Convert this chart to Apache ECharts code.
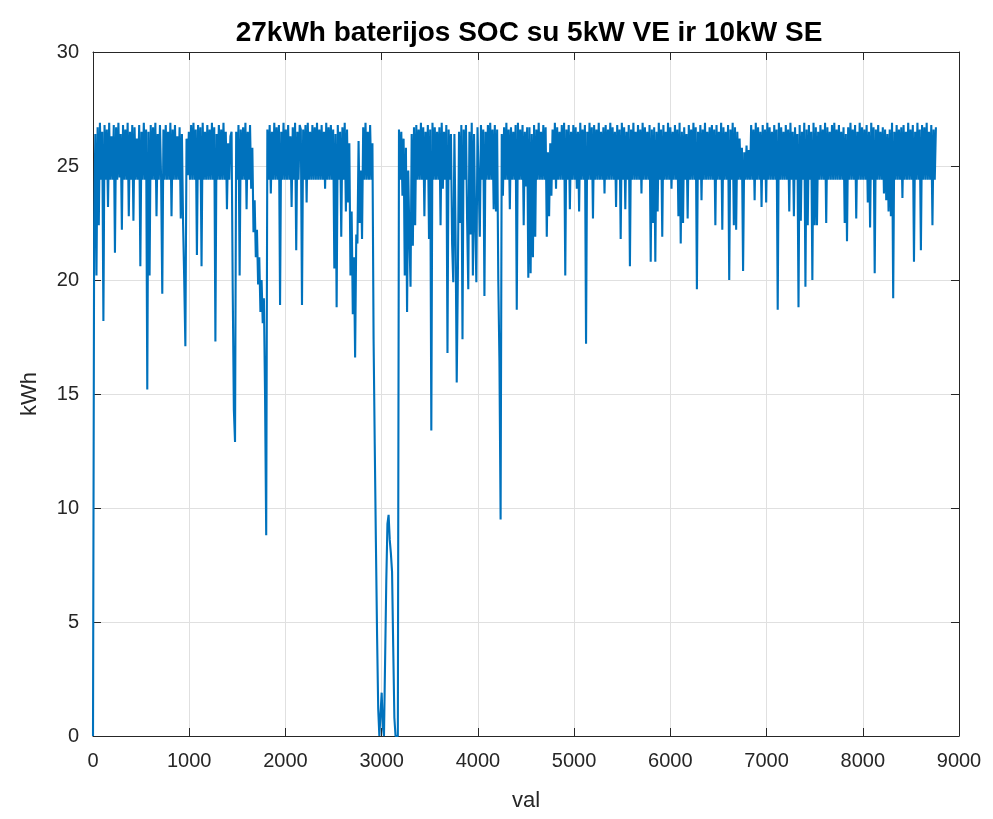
<!DOCTYPE html>
<html>
<head>
<meta charset="utf-8">
<script src="https://cdn.jsdelivr.net/npm/echarts@6/dist/echarts.min.js"></script>
<style>html,body{margin:0;padding:0;background:#fff}#chart{width:993px;height:819px}</style>
</head>
<body>
<div id="chart"></div>
<script>
const chartTitle = '27kWh baterijos SOC su 5kW VE ir 10kW SE';
const xAxisName = 'val';
const yAxisName = 'kWh';
const xTickRange = [0, 9000, 1000];
const yTickRange = [0, 30, 5];
const stepHours = 12; // one reading every 12 hours
const soc = [
0,22.3,26.4,20.2,26.7,22.4,26.9,24.4,26.5,18.2,26.8,24.4,26.6,23.2,26.9,24.4,26.3,24.4,26.8,21.2,
26.7,24.4,26.9,24.5,26.4,22.2,26.8,24.4,26.6,24.4,26.9,22.8,26.5,24.4,26.8,22.6,26.7,24.4,26.2,24.4,
26.8,20.6,26.5,24.4,26.9,24.4,26.6,15.2,26.5,20.2,26.8,24.4,26.7,24.4,26.9,22.8,26.4,24.4,26.8,24.4,
19.4,26.6,24.4,26.8,24.4,26.5,24.4,26.9,22.8,26.6,24.4,26.8,24.4,26.3,24.4,26.7,22.7,26.4,22.5,20.0,
17.1,26.2,24.6,26.5,24.4,26.8,24.4,26.9,24.4,26.6,21.1,26.8,24.4,26.7,20.6,26.9,24.4,26.5,24.4,26.8,
24.4,26.6,24.4,26.9,24.4,26.7,17.3,26.4,24.4,26.8,24.4,26.6,24.4,26.9,24.4,26.5,23.1,26.0,24.4,26.3,
26.5,19.6,14.3,12.9,26.5,24.4,26.8,20.2,26.6,24.4,26.7,24.4,26.9,23.1,26.5,24.4,26.8,24.0,25.8,22.1,
23.5,21.0,22.2,19.8,21.0,18.6,20.0,18.1,19.2,15.0,8.8,26.6,24.4,26.8,23.8,26.5,24.4,26.9,24.4,26.7,
24.4,26.8,18.9,26.5,24.4,26.9,24.4,26.6,24.4,26.8,24.4,26.3,23.2,26.7,24.4,26.9,21.3,26.5,24.4,26.8,
26.6,18.9,26.6,24.4,26.8,23.4,26.9,24.4,26.5,24.4,26.8,24.4,26.7,24.4,26.9,24.4,26.6,24.4,26.8,24.4,
26.5,24.0,26.9,24.4,26.7,24.4,26.8,24.4,26.6,20.5,26.4,18.8,26.8,24.4,26.5,21.9,26.7,24.4,26.9,23.0,
26.6,23.4,26.0,20.2,23.0,18.5,21.0,16.6,22.0,21.6,26.1,22.5,24.8,21.8,26.7,24.4,26.9,24.4,26.5,24.4,
26.8,24.4,26.0,17.4,12.8,8.5,4.5,1.2,0,0,1.9,0.4,0,3.4,6.8,9.3,9.7,8.6,8.0,7.2,
3.9,0.8,0,0,0,26.6,24.4,26.5,23.7,26.2,20.2,25.8,18.6,24.8,22.0,19.7,26.4,21.5,26.7,22.4,
26.8,24.4,26.6,24.4,26.9,24.4,26.7,22.8,26.5,24.4,26.8,21.8,26.6,13.4,26.9,24.4,26.7,24.4,26.5,24.4,
26.7,22.4,26.9,24.0,26.5,24.4,26.8,16.8,26.6,24.4,26.4,21.6,19.9,26.4,22.0,15.5,20.2,26.5,22.5,26.8,
17.4,26.6,24.4,26.8,22.6,19.6,26.5,22.0,26.9,20.2,26.4,22.5,19.9,26.7,24.4,21.9,26.8,24.4,26.6,19.3,
26.5,24.4,26.8,24.4,26.9,24.4,26.6,23.1,26.8,23.0,26.6,20.0,16.4,9.5,26.4,23.7,26.7,24.4,26.9,24.4,
26.6,23.1,26.7,24.4,26.5,24.4,26.8,18.7,26.9,24.4,26.6,24.4,26.8,22.4,26.5,24.1,26.7,20.1,26.7,20.3,
26.4,21.0,26.8,21.9,26.6,24.4,26.9,24.4,26.5,24.4,26.8,24.4,26.7,21.9,25.6,22.8,26.0,23.7,26.6,24.4,
26.9,24.0,26.7,24.4,26.5,24.4,26.8,24.4,26.9,20.2,26.6,24.4,26.8,23.1,26.5,24.4,26.8,24.4,26.7,24.0,
26.5,23.0,26.9,24.4,26.6,24.4,26.8,17.2,26.5,24.4,26.9,24.4,26.7,22.7,26.8,24.4,26.6,24.4,26.9,24.4,
26.5,24.4,26.7,23.8,26.8,24.4,26.6,24.4,26.9,24.4,26.7,24.4,26.5,23.2,26.8,24.4,26.6,21.8,26.9,24.4,
26.7,23.1,26.5,24.4,26.8,20.6,26.6,24.4,26.9,24.4,26.5,24.4,26.8,24.4,26.6,23.8,26.9,24.4,26.7,24.4,
26.5,24.4,26.8,20.8,26.6,22.5,26.7,20.8,26.5,23.0,26.9,24.4,26.6,21.9,26.8,24.4,26.5,24.4,26.9,24.4,
26.7,24.0,26.5,24.4,26.8,24.4,26.6,22.8,26.9,21.6,26.5,22.5,26.7,24.4,26.4,22.7,26.8,24.4,26.6,24.4,
26.9,24.4,26.7,19.6,26.5,24.4,26.8,23.5,26.6,24.4,26.9,24.4,26.5,24.4,26.7,24.4,26.8,24.4,26.6,22.4,
26.8,24.4,26.5,24.4,26.9,22.2,26.7,24.4,26.5,24.4,26.8,20.0,26.6,24.4,26.9,22.4,26.7,22.2,26.5,24.4,
26.2,24.4,25.8,20.4,25.6,24.4,25.9,24.4,25.7,24.4,26.8,24.4,26.6,23.5,26.9,24.4,26.7,24.4,26.5,23.2,
26.8,24.4,26.6,23.4,26.9,24.4,26.7,24.4,26.5,24.4,26.8,24.4,26.6,18.7,26.9,24.4,26.7,24.4,26.5,24.4,
26.8,24.4,26.6,23.0,26.9,24.4,26.5,22.8,26.7,24.4,26.4,18.8,26.8,22.6,26.5,24.4,26.9,19.7,26.6,22.4,
26.8,24.4,26.5,20.0,26.9,22.4,26.7,22.4,26.5,24.4,26.8,24.4,26.6,24.4,26.9,22.5,26.7,24.4,26.5,24.4,
26.8,24.4,26.9,24.4,26.6,24.4,26.8,24.4,26.5,24.4,26.7,22.5,26.4,21.7,26.7,24.4,26.9,24.4,26.6,24.4,
26.8,22.7,26.5,24.4,26.9,24.4,26.7,24.4,26.6,24.4,26.8,23.4,26.5,22.3,26.9,24.4,26.7,20.3,26.6,24.4,
26.8,24.4,26.5,24.4,26.7,23.8,26.6,23.5,26.4,23.0,26.6,22.8,26.9,19.2,26.5,24.4,26.8,24.4,26.6,24.4,
26.7,23.6,26.8,24.4,26.5,24.4,26.9,24.4,26.6,24.4,26.8,20.8,26.5,24.4,26.9,24.4,26.6,21.3,26.8,24.4,
26.7,24.4,26.9,24.4,26.5,24.4,26.8,22.4,26.6,24.4,26.7
];

const points = soc.map((v, i) => [i * stepHours, v]);
const ink = '#262626';
const font = 'Liberation Sans, Arial, Helvetica, sans-serif';

function xAxisCfg(pos, main) {
  return {
    type: 'value', position: pos,
    min: xTickRange[0], max: xTickRange[1], interval: xTickRange[2],
    axisLine: { show: true, onZero: false, lineStyle: { color: ink, width: 1 } },
    axisTick: { show: true, inside: true, length: 8, lineStyle: { color: ink } },
    axisLabel: { show: main, color: ink, fontSize: 20, fontFamily: font, margin: 15,
      showMinLabel: true, showMaxLabel: true, formatter: v => String(v) },
    splitLine: { show: main, lineStyle: { color: '#e0e0e0', width: 1 } },
    name: main ? xAxisName : '', nameLocation: 'middle', nameGap: 54,
    nameTextStyle: { color: ink, fontSize: 22, fontFamily: font }
  };
}
function yAxisCfg(pos, main) {
  return {
    type: 'value', position: pos,
    min: yTickRange[0], max: yTickRange[1], interval: yTickRange[2],
    axisLine: { show: true, onZero: false, lineStyle: { color: ink, width: 1 } },
    axisTick: { show: true, inside: true, length: 8, lineStyle: { color: ink } },
    axisLabel: { show: main, color: ink, fontSize: 20, fontFamily: font, margin: 14,
      showMinLabel: true, showMaxLabel: true, formatter: v => String(v) },
    splitLine: { show: main, lineStyle: { color: '#e0e0e0', width: 1 } },
    name: main ? yAxisName : '', nameLocation: 'middle', nameGap: 52, nameRotate: 90,
    nameTextStyle: { color: ink, fontSize: 22, fontFamily: font }
  };
}

const chart = echarts.init(document.getElementById('chart'), null, { renderer: 'canvas' });
chart.setOption({
  animation: false,
  backgroundColor: '#ffffff',
  title: {
    text: chartTitle, left: 524, top: 14, textAlign: 'center',
    textStyle: { color: '#000', fontSize: 28, fontWeight: 'bold', fontFamily: font }
  },
  grid: { left: 93, right: 34, top: 52, bottom: 83, containLabel: false },
  xAxis: [xAxisCfg('bottom', true), xAxisCfg('top', false)],
  yAxis: [yAxisCfg('left', true), yAxisCfg('right', false)],
  series: [{
    type: 'line', xAxisIndex: 0, yAxisIndex: 0,
    data: points, showSymbol: false, symbol: 'none',
    lineStyle: { color: '#0072BD', width: 2.1 }, clip: true
  }]
});
</script>
</body>
</html>
